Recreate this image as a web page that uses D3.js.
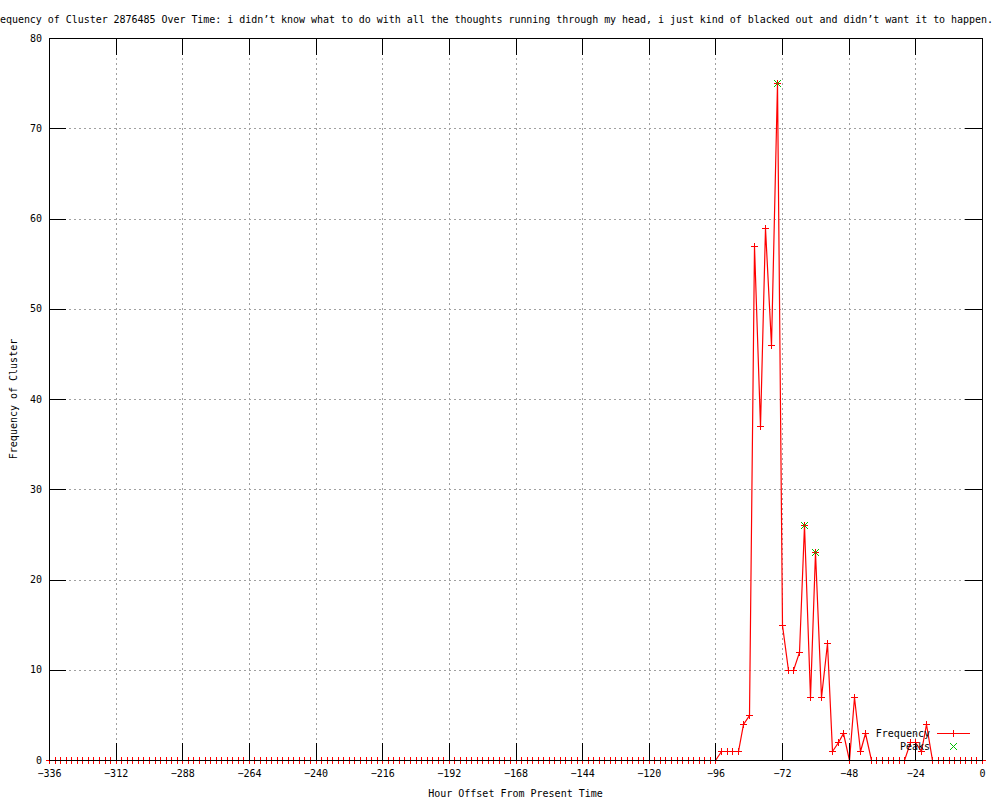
<!DOCTYPE html>
<meta charset="utf-8">
<script src="https://d3js.org/d3.v7.min.js"></script>
<style>
  body { margin: 0; background: #fff; }
  text { font-family: "DejaVu Sans Mono", monospace; font-size: 10px; fill: #000; }
</style>
<div id="my_dataviz"></div>
<script>

// hours before present (one sample every two hours)
var hours = [
  -336, -334, -332, -330, -328, -326, -324, -322, -320, -318, -316, -314,
  -312, -310, -308, -306, -304, -302, -300, -298, -296, -294, -292, -290,
  -288, -286, -284, -282, -280, -278, -276, -274, -272, -270, -268, -266,
  -264, -262, -260, -258, -256, -254, -252, -250, -248, -246, -244, -242,
  -240, -238, -236, -234, -232, -230, -228, -226, -224, -222, -220, -218,
  -216, -214, -212, -210, -208, -206, -204, -202, -200, -198, -196, -194,
  -192, -190, -188, -186, -184, -182, -180, -178, -176, -174, -172, -170,
  -168, -166, -164, -162, -160, -158, -156, -154, -152, -150, -148, -146,
  -144, -142, -140, -138, -136, -134, -132, -130, -128, -126, -124, -122,
  -120, -118, -116, -114, -112, -110, -108, -106, -104, -102, -100, -98,
  -96, -94, -92, -90, -88, -86, -84, -82, -80, -78, -76, -74,
  -72, -70, -68, -66, -64, -62, -60, -58, -56, -54, -52, -50,
  -48, -46, -44, -42, -40, -38, -36, -34, -32, -30, -28, -26,
  -24, -22, -20, -18, -16, -14, -12, -10, -8, -6, -4, -2,
  0
];

// frequency of the cluster at each hour above
var frequency = [
  0, 0, 0, 0, 0, 0, 0, 0, 0, 0, 0, 0,
  0, 0, 0, 0, 0, 0, 0, 0, 0, 0, 0, 0,
  0, 0, 0, 0, 0, 0, 0, 0, 0, 0, 0, 0,
  0, 0, 0, 0, 0, 0, 0, 0, 0, 0, 0, 0,
  0, 0, 0, 0, 0, 0, 0, 0, 0, 0, 0, 0,
  0, 0, 0, 0, 0, 0, 0, 0, 0, 0, 0, 0,
  0, 0, 0, 0, 0, 0, 0, 0, 0, 0, 0, 0,
  0, 0, 0, 0, 0, 0, 0, 0, 0, 0, 0, 0,
  0, 0, 0, 0, 0, 0, 0, 0, 0, 0, 0, 0,
  0, 0, 0, 0, 0, 0, 0, 0, 0, 0, 0, 0,
  0, 1, 1, 1, 1, 4, 5, 57, 37, 59, 46, 75,
  15, 10, 10, 12, 26, 7, 23, 7, 13, 1, 2, 3,
  0, 7, 1, 3, 0, 0, 0, 0, 0, 0, 0, 2,
  2, 1, 4, 0, 0, 0, 0, 0, 0, 0, 0, 0,
  0
];

var peakHours = [-74, -64, -60];
var peakValues = [75, 26, 23];

var xTicks = [-336, -312, -288, -264, -240, -216, -192, -168, -144, -120, -96, -72, -48, -24, 0];
var yTicks = [0, 10, 20, 30, 40, 50, 60, 70, 80];

var title = "Frequency of Cluster 2876485 Over Time: i didn\u2019t know what to do with all the thoughts running through my head, i just kind of blacked out and didn\u2019t want it to happen.";

// plot box in page pixels
var margin = {top: 38, right: 18, bottom: 40, left: 49},
    width = 1000 - margin.left - margin.right,
    height = 800 - margin.top - margin.bottom;

var svg = d3.select("#my_dataviz")
  .append("svg")
    .attr("width", 1000)
    .attr("height", 800)
    .style("display", "block");

svg.append("rect").attr("width", 1000).attr("height", 800).attr("fill", "#fff");

var g = svg.append("g")
    .attr("transform", "translate(" + margin.left + "," + margin.top + ")");

var x = d3.scaleLinear().domain([-336, 0]).range([0, width]);
var y = d3.scaleLinear().domain([0, 80]).range([height, 0]);

// grid
g.append("g").selectAll("line")
  .data(xTicks.slice(1, -1))
  .enter().append("line")
    .attr("x1", function(d) { return Math.round(x(d)) + 0.5; })
    .attr("x2", function(d) { return Math.round(x(d)) + 0.5; })
    .attr("y1", 0).attr("y2", height)
    .attr("stroke", "#a0a0a0").attr("stroke-dasharray", "2,3");
g.append("g").selectAll("line")
  .data(yTicks.slice(1, -1))
  .enter().append("line")
    .attr("y1", function(d) { return Math.round(y(d)) + 0.5; })
    .attr("y2", function(d) { return Math.round(y(d)) + 0.5; })
    .attr("x1", 0).attr("x2", width)
    .attr("stroke", "#a0a0a0").attr("stroke-dasharray", "2,3");

// frequency line
var pts = hours.map(function(h, i) { return [h, frequency[i]]; });
g.append("path")
    .datum(pts)
    .attr("fill", "none")
    .attr("stroke", "#ff0000")
    .attr("stroke-width", 1.2)
    .attr("d", d3.line()
      .x(function(d) { return Math.round(x(d[0])) + 0.5; })
      .y(function(d) { return Math.round(y(d[1])) + 0.5; }));

function plus(sel, cx, cy, color) {
  sel.append("path")
    .attr("d", "M" + (cx - 3.5) + "," + cy + "H" + (cx + 3.5) + "M" + cx + "," + (cy - 3.5) + "V" + (cy + 3.5))
    .attr("stroke", color).attr("fill", "none")
    .attr("shape-rendering", "crispEdges");
}
function cross(sel, cx, cy, color) {
  sel.append("path")
    .attr("d", "M" + (cx - 3.5) + "," + (cy - 3.5) + "L" + (cx + 3.5) + "," + (cy + 3.5) + "M" + (cx - 3.5) + "," + (cy + 3.5) + "L" + (cx + 3.5) + "," + (cy - 3.5))
    .attr("stroke", color).attr("fill", "none")
    .attr("shape-rendering", "crispEdges");
}

var marks = g.append("g");
pts.forEach(function(d) {
  plus(marks, Math.round(x(d[0])) + 0.5, Math.round(y(d[1])) + 0.5, "#ff0000");
});
var peaks = g.append("g");
peakHours.forEach(function(h, i) {
  cross(peaks, Math.round(x(h)) + 0.5, Math.round(y(peakValues[i])) + 0.5, "#00c000");
});

// axes with inward ticks, mirrored on top and right
var tick = 17;
var xAxis = g.append("g")
    .attr("transform", "translate(0," + height + ")")
    .call(d3.axisBottom(x).tickValues(xTicks).tickSizeInner(-tick).tickSizeOuter(0).tickPadding(10));
var xTop = g.append("g")
    .call(d3.axisTop(x).tickValues(xTicks).tickSizeInner(-tick).tickSizeOuter(0).tickFormat(""));
var yAxis = g.append("g")
    .call(d3.axisLeft(y).tickValues(yTicks).tickSizeInner(-tick).tickSizeOuter(0).tickPadding(7));
var yRight = g.append("g")
    .attr("transform", "translate(" + width + ",0)")
    .call(d3.axisRight(y).tickValues(yTicks).tickSizeInner(-tick).tickSizeOuter(0).tickFormat(""));

[xAxis, xTop, yAxis, yRight].forEach(function(a) {
  a.select(".domain").remove();
  a.attr("font-family", null).attr("font-size", null);
  a.selectAll("line").attr("stroke", "#000").attr("shape-rendering", "crispEdges");
});

g.append("rect")
    .attr("x", 0.5).attr("y", 0.5)
    .attr("width", width).attr("height", height)
    .attr("fill", "none").attr("stroke", "#000")
    .attr("shape-rendering", "crispEdges");

// labels (the title is wider than the page, as in the original output)
svg.append("text")
    .attr("x", -12).attr("y", 23)
    .attr("textLength", 1005)
    .attr("lengthAdjust", "spacing")
    .text(title);

svg.append("text")
    .attr("x", margin.left + width / 2).attr("y", 797)
    .attr("text-anchor", "middle")
    .text("Hour Offset From Present Time");

svg.append("text")
    .attr("transform", "translate(17," + (margin.top + height / 2) + ") rotate(-90)")
    .attr("text-anchor", "middle")
    .text("Frequency of Cluster");

// legend
var legend = svg.append("g");
legend.append("text").attr("x", 930).attr("y", 736.5).attr("text-anchor", "end").text("Frequency");
legend.append("line")
    .attr("x1", 937).attr("x2", 970).attr("y1", 733.5).attr("y2", 733.5)
    .attr("stroke", "#ff0000").attr("shape-rendering", "crispEdges");
plus(legend, 953.5, 733.5, "#ff0000");
legend.append("text").attr("x", 930).attr("y", 750).attr("text-anchor", "end").text("Peaks");
cross(legend, 953.5, 746.5, "#00c000");

</script>
